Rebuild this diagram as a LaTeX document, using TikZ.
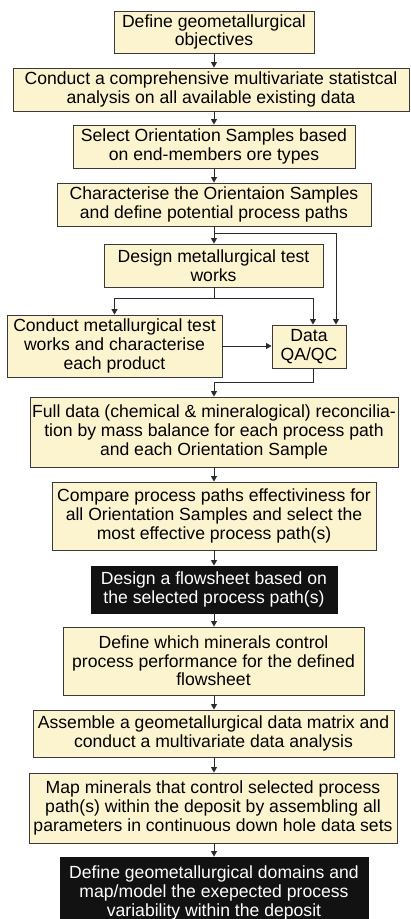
\documentclass[tikz,border=0pt]{standalone}
\usepackage{fontspec}
\setmainfont{Liberation Sans}
\usetikzlibrary{arrows.meta}
\definecolor{boxfill}{HTML}{FCF4CF}
\definecolor{boxline}{HTML}{3A3A3A}
\definecolor{darkfill}{HTML}{121212}
\definecolor{wire}{HTML}{2A2A2A}
\tikzset{
  stage/.style={draw=boxline, fill=boxfill, line width=0.9pt, inner sep=0pt,
    align=center, font=\fontsize{17.6}{18.6}\selectfont, text=black},
  darkstage/.style={stage, fill=darkfill, draw=darkfill, text=white},
  flow/.style={draw=wire, line width=0.9pt,
    -{Triangle[length=5.5pt,width=6pt]}},
}
\begin{document}
\begin{tikzpicture}[x=1pt,y=-1pt]
\useasboundingbox (0,0) rectangle (410,919);
\clip (0,0) rectangle (410,919);

\node[stage, minimum width=200pt, minimum height=42pt] (b1) at (214,32)
  {Define geometallurgical\\objectives};
\node[stage, minimum width=396pt, minimum height=43pt] (b2) at (211,89.5)
  {Conduct a comprehensive multivariate statistcal\\analysis on all available existing data};
\node[stage, minimum width=282pt, minimum height=43pt] (b3) at (214,146.5)
  {Select Orientation Samples based\\on end-members ore types};
\node[stage, minimum width=314pt, minimum height=43pt] (b4) at (214,204.5)
  {Characterise the Orientaion Samples\\and define potential process paths};
\node[stage, minimum width=219pt, minimum height=43pt] (b5) at (213.5,265.5)
  {Design metallurgical test\\works};
\node[stage, minimum width=215pt, minimum height=62pt] (b6) at (114.5,346)
  {Conduct metallurgical test\\works and characterise\\each product};
\node[stage, minimum width=74pt, minimum height=43pt] (b7) at (309,346.5)
  {Data\\QA/QC};
\node[stage, minimum width=368pt, minimum height=70pt] (b8) at (214,432)
  {Full data (chemical \& mineralogical) reconcilia-\\tion by mass balance for each process path\\and each Orientation Sample};
\node[stage, minimum width=324pt, minimum height=68pt] (b9) at (214,516)
  {Compare process paths effectiviness for\\all Orientation Samples and select the\\most effective process path(s)};
\node[darkstage, minimum width=246pt, minimum height=47pt] (b10) at (214,589.5)
  {Design a flowsheet based on\\the selected process path(s)};
\node[stage, minimum width=301pt, minimum height=68pt] (b11) at (213.5,661)
  {Define which minerals control\\process performance for the defined\\flowsheet};
\node[stage, minimum width=361pt, minimum height=47pt] (b12) at (213.5,733.5)
  {Assemble a geometallurgical data matrix and\\conduct a multivariate data analysis};
\node[stage, minimum width=368pt, minimum height=70pt] (b13) at (213,808)
  {Map minerals that control selected process\\path(s) within the deposit by assembling all\\parameters in continuous down hole data sets};
\node[darkstage, minimum width=308pt, minimum height=72pt] (b14) at (214,893)
  {Define geometallurgical domains and\\map/model the exepected process\\variability within the deposit};

% main vertical chain
\draw[flow] (b1.south) -- (b1.south |- b2.north);
\draw[flow] (b1.south |- b2.south) -- (b3.north);
\draw[flow] (b3.south) -- (b4.north);
\draw[flow] (b4.south) -- (b4.south |- b5.north);
% branch from characterisation straight to data QA/QC
\draw[flow] (b4.south) -- ++(0,7) -| ([xshift=27pt]b7.north);
% test-work design splits to test works and QA/QC
\draw[flow] (b4.south |- b5.south) -- ++(0,11) -| (b6.north);
\draw[flow] (b4.south |- b5.south) -- ++(0,11) -| ([xshift=4pt]b7.north);
\draw[flow] (b6.east) -- (b6.east -| b7.west);
\draw[flow] ([xshift=4pt]b7.south) -- ++(0,14) -| (b8.north);
% lower chain
\draw[flow] (b8.south) -- (b9.north);
\draw[flow] (b9.south) -- (b10.north);
\draw[flow] (b10.south) -- (b10.south |- b11.north);
\draw[flow] (b10.south |- b11.south) -- (b10.south |- b12.north);
\draw[flow] (b10.south |- b12.south) -- (b10.south |- b13.north);
\draw[flow] (b10.south |- b13.south) -- (b10.south |- b14.north);
\end{tikzpicture}
\end{document}
